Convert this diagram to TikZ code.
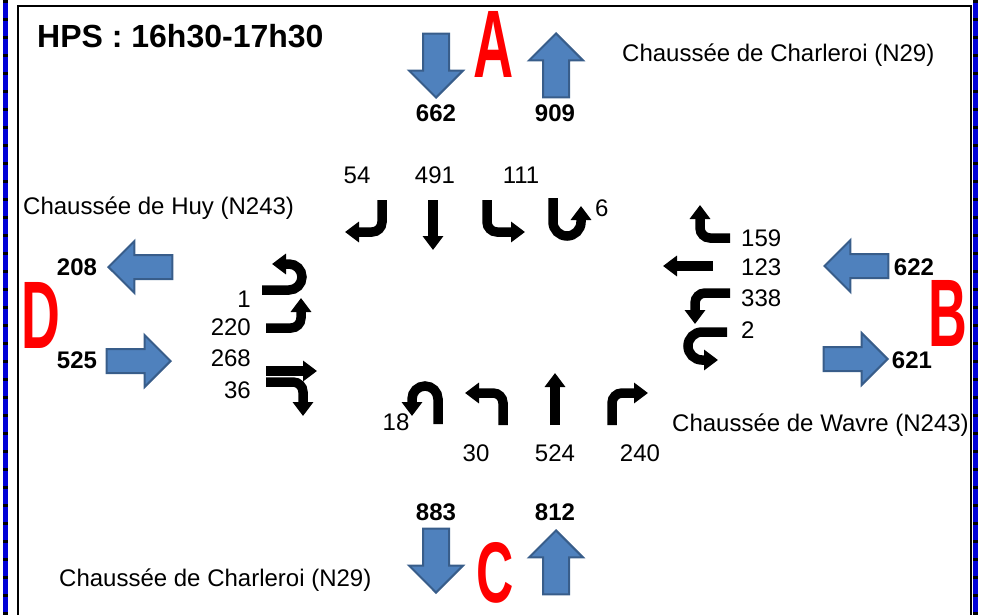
\documentclass[tikz,border=0pt]{standalone}
\usepackage{fontspec}
\setmainfont{Liberation Sans}
\usetikzlibrary{arrows.meta,shapes.arrows}
\definecolor{fillblue}{RGB}{79,129,189}
\definecolor{edgeblue}{RGB}{56,93,138}
\definecolor{pageblue}{RGB}{0,0,215}
\tikzset{
  moveline/.style={line width=9.5pt, rounded corners=10pt, -{Triangle[width=20pt,length=14pt]}},
  bigarrow/.style={single arrow, draw=edgeblue, fill=fillblue, line width=2pt, inner xsep=0pt, inner ysep=11pt,
    single arrow head extend=14pt, minimum height=64pt, anchor=tip},
  upright/.style={bigarrow, inner xsep=12pt, inner ysep=0pt},
  vol/.style={font=\fontsize{24}{24}\selectfont, inner sep=0pt},
  total/.style={font=\fontsize{24}{24}\selectfont\bfseries, inner sep=0pt, anchor=base},
  roadname/.style={font=\fontsize{24}{24}\selectfont, inner sep=0pt, anchor=base west},
  legletter/.style={font=\fontsize{96}{96}\selectfont\bfseries, text=red, inner sep=0pt, anchor=base}
}
\begin{document}
\begin{tikzpicture}[x=1pt,y=-1pt]
	\useasboundingbox (0,0) rectangle (982,615);
	\draw[pageblue, line width=5pt] (5,0) -- (5,615) (975,0) -- (975,615);
	\draw[line width=5pt, dash pattern=on 3pt off 15pt] (5,0) -- (5,615) (975,0) -- (975,615);
	\draw[line width=2pt] (18,615) -- (18,6) -- (971,6) -- (971,615);
	\node[anchor=base west, inner sep=0pt, font=\fontsize{32}{32}\selectfont\bfseries] (title) at (37,48) {HPS : 16h30-17h30};

	\node[roadname] (roadA) at (622,62) {Chaussée de Charleroi (N29)};
	\node[roadname] (roadD) at (23,214) {Chaussée de Huy (N243)};
	\node[roadname] (roadB) at (672,431) {Chaussée de Wavre (N243)};
	\node[roadname] (roadC) at (59,586) {Chaussée de Charleroi (N29)};

	\node[legletter] (legA) at (494,78) {\scalebox{0.58}[1]{A}};
	\node[legletter] (legB) at (948,346) {\scalebox{0.56}[1]{B}};
	\node[legletter, font=\fontsize{86}{86}\selectfont\bfseries] (legC) at (495,602) {\scalebox{0.6}[1]{C}};
	\node[legletter] (legD) at (41,348) {\scalebox{0.56}[1]{D}};

	\node[upright, shape border rotate=270] (inA) at (436,99) {};
	\node[upright, shape border rotate=90] (outA) at (556,32) {};
	\node[upright, shape border rotate=270] (outC) at (436,594) {};
	\node[upright, shape border rotate=90] (inC) at (556,529) {};
	\node[bigarrow, shape border rotate=180] (outD) at (107,267) {};
	\node[bigarrow] (inD) at (172,361) {};
	\node[bigarrow, shape border rotate=180] (inB) at (823,266) {};
	\node[bigarrow] (outB) at (889,359) {};

	\node[total] (totInA) at (436,122) {662};
	\node[total] (totOutA) at (555,122) {909};
	\node[total] (totOutC) at (436,520) {883};
	\node[total] (totInC) at (555,520) {812};
	\node[total] (totOutD) at (77,275) {208};
	\node[total] (totInD) at (77,368) {525};
	\node[total] (totInB) at (914,275) {622};
	\node[total] (totOutB) at (912,368) {621};

	\node[vol, anchor=base] (aRight) at (357,183) {54};
	\node[vol, anchor=base] (aThru) at (435,183) {491};
	\node[vol, anchor=base] (aLeft) at (521,183) {111};
	\node[vol, anchor=base west] (aBack) at (595,216) {6};
	\node[vol, anchor=base east] (dBack) at (251,307) {1};
	\node[vol, anchor=base east] (dLeft) at (251,335) {220};
	\node[vol, anchor=base east] (dThru) at (251,366) {268};
	\node[vol, anchor=base east] (dRight) at (251,398) {36};
	\node[vol, anchor=base west] (bRight) at (741,246) {159};
	\node[vol, anchor=base west] (bThru) at (741,275) {123};
	\node[vol, anchor=base west] (bLeft) at (741,306) {338};
	\node[vol, anchor=base west] (bBack) at (741,338) {2};
	\node[vol, anchor=base] (cBack) at (396,430) {18};
	\node[vol, anchor=base] (cLeft) at (476,461) {30};
	\node[vol, anchor=base] (cThru) at (555,461) {524};
	\node[vol, anchor=base] (cRight) at (640,461) {240};

	\draw[moveline] (382,200) -- (382,232) -- (345,232);
	\draw[moveline] (433,200) -- (433,250);
	\draw[moveline] (487,200) -- (487,232) -- (525,232);
	\draw[moveline, rounded corners=14pt] (553,198) -- (553,236) -- (581,236) -- (581,206);

	\draw[moveline, rounded corners=13pt] (262,290) -- (302,290) -- (302,264) -- (272,264);
	\draw[moveline] (266,328) -- (301,328) -- (301,298);
	\draw[moveline] (266,371) -- (317,371);
	\draw[moveline] (266,382) -- (303,382) -- (303,416);

	\draw[moveline] (730,238) -- (700,238) -- (700,205);
	\draw[moveline] (713,266) -- (663,266);
	\draw[moveline] (730,293) -- (695,293) -- (695,324);
	\draw[moveline, rounded corners=14pt] (727,332) -- (688,332) -- (688,360) -- (718,360);

	\draw[moveline, rounded corners=13pt] (438,424) -- (438,386) -- (412,386) -- (412,416);
	\draw[moveline] (503,425) -- (503,393) -- (465,393);
	\draw[moveline] (555,425) -- (555,373);
	\draw[moveline] (612,425) -- (612,393) -- (648,393);
\end{tikzpicture}
\end{document}
